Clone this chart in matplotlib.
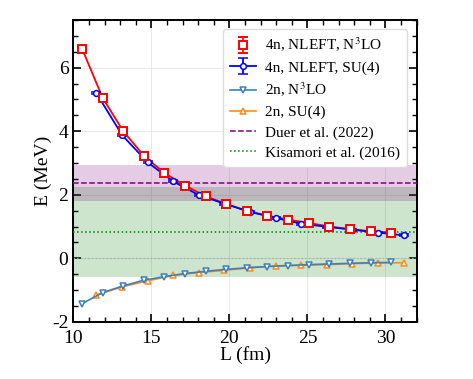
import matplotlib

matplotlib.use("Agg")
import matplotlib.pyplot as plt
from matplotlib.ticker import MultipleLocator

plt.rcParams["font.family"] = ["Liberation Serif", "DejaVu Serif"]
plt.rcParams["mathtext.fontset"] = "stix"
plt.rcParams["axes.unicode_minus"] = False

# lattice box sizes (fm)
L_n3lo = [10.56, 11.88, 13.20, 14.52, 15.84, 17.16, 18.48, 19.80,
          21.12, 22.44, 23.76, 25.08, 26.40, 27.72, 29.04, 30.36]
L_su4 = [11.48, 13.12, 14.76, 16.40, 18.04, 19.68, 21.32,
         22.96, 24.60, 26.24, 27.88, 29.52, 31.16]

# four-neutron energies (MeV)
E4n_n3lo = [6.60, 5.05, 4.00, 3.23, 2.68, 2.29, 1.95, 1.71,
            1.49, 1.34, 1.22, 1.11, 1.00, 0.92, 0.85, 0.81]
E4n_n3lo_err = [0.05, 0.05, 0.05, 0.05, 0.04, 0.04, 0.04, 0.04,
                0.04, 0.04, 0.04, 0.04, 0.04, 0.04, 0.04, 0.04]
E4n_su4 = [5.20, 3.88, 3.02, 2.42, 1.99, 1.72, 1.46,
           1.27, 1.09, 0.99, 0.90, 0.81, 0.72]
E4n_su4_err = [0.03, 0.03, 0.03, 0.03, 0.03, 0.03, 0.03,
               0.03, 0.03, 0.03, 0.03, 0.03, 0.03]

# two-neutron energies (MeV)
E2n_n3lo = [-1.43, -1.08, -0.87, -0.69, -0.58, -0.48, -0.41, -0.35,
            -0.30, -0.26, -0.23, -0.20, -0.18, -0.16, -0.14, -0.13]
E2n_su4 = [-1.16, -0.90, -0.71, -0.54, -0.45, -0.38, -0.30,
           -0.24, -0.22, -0.20, -0.17, -0.15, -0.14]

# experiments: central value and total uncertainty (MeV)
duer_E, duer_err = 2.37, 0.58
kisamori_E, kisamori_err = 0.83, 1.41

fig = plt.figure(figsize=(4.73, 3.79), dpi=100)
ax = fig.add_axes([0.155, 0.151, 0.726, 0.796])

ax.grid(True, color="#e8e8e8", linewidth=0.7, zorder=0)
ax.set_axisbelow(True)

ax.axhspan(kisamori_E - kisamori_err, kisamori_E + kisamori_err,
           color="green", alpha=0.2, linewidth=0, zorder=1)
ax.axhspan(duer_E - duer_err, duer_E + duer_err,
           color="purple", alpha=0.2, linewidth=0, zorder=1)
ax.axhline(0.0, color="#b0b0b0", linestyle=":", linewidth=1.0, zorder=2)

ax.plot(L_n3lo, E4n_n3lo, color="red", linewidth=1.3, zorder=4)
h_red = ax.errorbar(L_n3lo, E4n_n3lo, yerr=E4n_n3lo_err, fmt="s", color="red",
                    mfc="white", mec="red", mew=1.4, ms=5.2, capsize=3.5,
                    elinewidth=1.2, label="4n, NLEFT, N$^3$LO", zorder=6)
h_blue = ax.errorbar(L_su4, E4n_su4, yerr=E4n_su4_err, fmt="-o", color="blue",
                     mfc="white", mec="blue", mew=1.1, ms=4.2, capsize=3.5,
                     linewidth=1.3, label="4n, NLEFT, SU(4)", zorder=5)
h_2n, = ax.plot(L_n3lo, E2n_n3lo, "-v", color="#3f80bb", mfc="white", mew=1.1,
                ms=5, linewidth=1.2, label="2n, N$^3$LO", zorder=5)
h_2s, = ax.plot(L_su4, E2n_su4, "-^", color="#ff8c1a", mfc="white", mew=1.1,
                ms=5, linewidth=1.2, label="2n, SU(4)", zorder=4)

h_duer = ax.axhline(duer_E, color="purple", linestyle="--", linewidth=1.1,
                    label="Duer et al. (2022)", zorder=3)
h_kis = ax.axhline(kisamori_E, color="green", linestyle=":", linewidth=1.1,
                   label="Kisamori et al. (2016)", zorder=3)

ax.set_xlim(10, 32)
ax.set_ylim(-2, 7.5)
ax.xaxis.set_major_locator(MultipleLocator(5))
ax.xaxis.set_minor_locator(MultipleLocator(1))
ax.yaxis.set_major_locator(MultipleLocator(2))
ax.yaxis.set_minor_locator(MultipleLocator(0.5))
ax.tick_params(which="both", direction="in", top=True, right=True, labelsize=14)
ax.tick_params(which="major", length=6, width=1.2)
ax.tick_params(which="minor", length=3.5, width=1.0)
ax.tick_params(axis="x", which="major", pad=6)
for spine in ax.spines.values():
    spine.set_linewidth(1.4)

ax.set_xlabel("L (fm)", fontsize=14, labelpad=-1)
ax.set_ylabel("E (MeV)", fontsize=14, labelpad=0)

handles = [h_red, h_blue, h_2n, h_2s, h_duer, h_kis]
leg = ax.legend(handles=handles, labels=[h.get_label() for h in handles],
                loc="upper right", fontsize=11, labelspacing=0.42,
                handlelength=1.7, handletextpad=0.6, borderpad=0.45,
                borderaxespad=0, framealpha=1.0, edgecolor="#dddddd",
                bbox_to_anchor=(0.971, 0.970))
leg.set_zorder(10)

fig.savefig("out.png")
plt.close(fig)
